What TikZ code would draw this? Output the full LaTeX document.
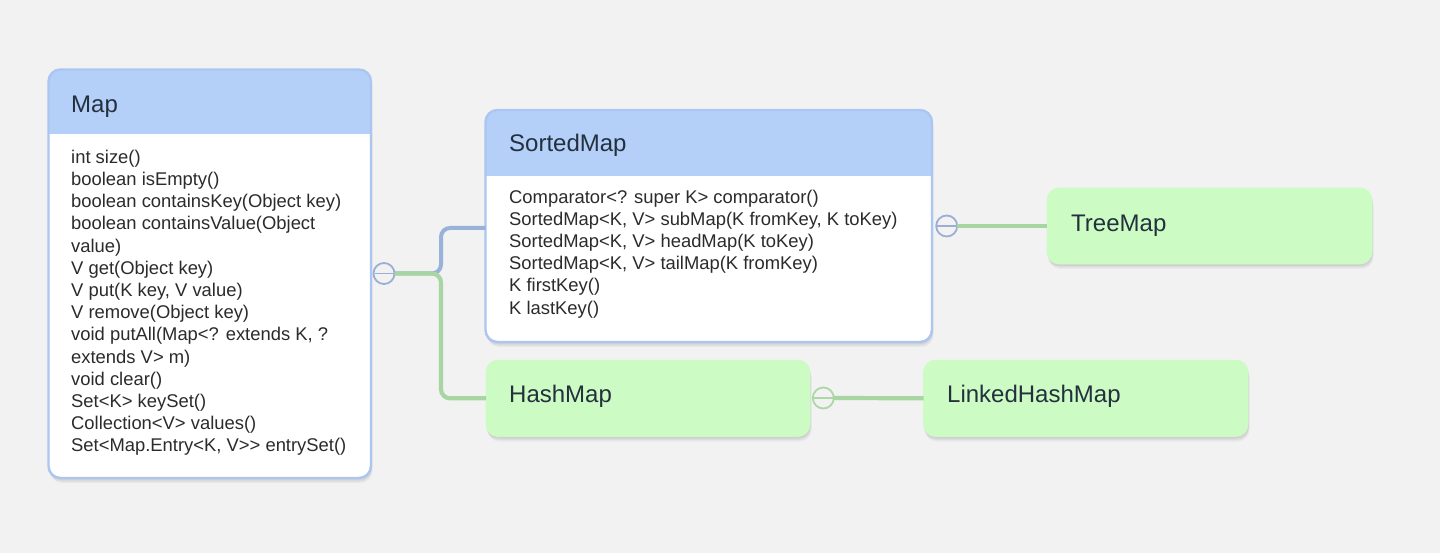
\documentclass[tikz,border=0pt]{standalone}
\usepackage{fontspec}
\setmainfont[Ligatures={NoCommon}]{Liberation Sans}
\usetikzlibrary{shadows}
\definecolor{bgc}{HTML}{F2F2F2}
\definecolor{hdrblue}{HTML}{B4CFF8}
\definecolor{brdblue}{HTML}{ABC6F0}
\definecolor{greenfill}{HTML}{CCFCC4}
\definecolor{greenline}{HTML}{A8D6A2}
\definecolor{blueline}{HTML}{98B2DA}
\definecolor{circblue}{HTML}{9AAED6}
\definecolor{circgreen}{HTML}{ACD8A6}
\definecolor{txt}{HTML}{2B2B2B}
\definecolor{ttl}{HTML}{24303E}
\tikzset{
  softshadow/.style={
    general shadow={fill=black,opacity=0.05,shadow yshift=-2pt,shadow xshift=0.5pt},
    general shadow={fill=black,opacity=0.05,shadow yshift=-3.5pt,shadow xshift=1pt},
    general shadow={fill=black,opacity=0.04,shadow yshift=-5pt,shadow xshift=1.5pt}},
  classbox/.style={rectangle, rounded corners=12pt, fill=white, outer sep=0pt, inner sep=0pt, softshadow},
  classborder/.style={draw=brdblue, line width=2.4pt, rounded corners=12pt},
  leafbox/.style={rectangle, rounded corners=12pt, fill=greenfill, draw=greenfill, line width=0.6pt, outer sep=0pt, inner sep=0pt, softshadow},
  titletext/.style={anchor=base west, inner sep=0pt, text=ttl, font=\fontsize{24}{28}\selectfont},
  bodytext/.style={anchor=north west, inner sep=0pt, align=left, text=txt, font=\fontsize{18.4}{22.2}\selectfont},
  fold/.style={circle, draw=#1, fill=bgc, line width=1.8pt, minimum size=21pt, inner sep=0pt, outer sep=0pt},
  connb/.style={draw=blueline, line width=4pt, rounded corners=9pt},
  conng/.style={draw=greenline, line width=4.2pt, rounded corners=9pt},
}
\begin{document}
\begin{tikzpicture}[x=1pt,y=-1pt]
\fill[bgc] (0,0) rectangle (1440,553);
\useasboundingbox (0,0) rectangle (1440,553);

% Map
\node[classbox, minimum width=322.5pt, minimum height=408.5pt] (map) at (209.75,273.75) {};
\begin{scope}
\clip[rounded corners=12pt] (map.north west) rectangle (map.south east);
\fill[hdrblue] (map.north west) rectangle ([yshift=-64.5pt]map.north east);
\end{scope}
\draw[classborder] (map.north west) rectangle (map.south east);
\node[titletext] (maptitle) at (71,113) {Map};
\node[bodytext] (mapbody) at (71,148) {\rule{0pt}{15pt}int size()\\
boolean isEmpty()\\
boolean containsKey(Object key)\\
boolean containsValue(Object\\
value)\\
V get(Object key)\\
V put(K key, V value)\\
V remove(Object key)\\
void putAll(Map<? extends K, ?\\
extends V> m)\\
void clear()\\
Set<K> keySet()\\
Collection<V> values()\\
Set<Map.Entry<K, V>{}> entrySet()};

% SortedMap
\node[classbox, minimum width=446.5pt, minimum height=232pt] (sorted) at (708.75,226) {};
\begin{scope}
\clip[rounded corners=12pt] (sorted.north west) rectangle (sorted.south east);
\fill[hdrblue] (sorted.north west) rectangle ([yshift=-66pt]sorted.north east);
\end{scope}
\draw[classborder] (sorted.north west) rectangle (sorted.south east);
\node[titletext] (sortedtitle) at (509,152) {SortedMap};
\node[bodytext] (sortedbody) at (509,188) {\rule{0pt}{15pt}Comparator<? super K> comparator()\\
SortedMap<K, V> subMap(K fromKey, K toKey)\\
SortedMap<K, V> headMap(K toKey)\\
SortedMap<K, V> tailMap(K fromKey)\\
K firstKey()\\
K lastKey()};

% leaf boxes
\node[leafbox, minimum width=325pt, minimum height=76pt] (tree) at (1209.5,226) {};
\node[titletext] (treetitle) at (1071,231.7) {TreeMap};
\node[leafbox, minimum width=324pt, minimum height=76.5pt] (hash) at (648,398.3) {};
\node[titletext] (hashtitle) at (509,402.7) {HashMap};
\node[leafbox, minimum width=324.5pt, minimum height=76.5pt] (lhm) at (1085.75,398.3) {};
\node[titletext] (lhmtitle) at (947,402.7) {LinkedHashMap};

% connectors
\coordinate (j1) at (441,273.5);
\coordinate (j2) at (441,228);
\coordinate (j3) at (441,398.3);
\node[fold=circblue] (c1) at (384,273.5) {};
\node[fold=circblue] (c2) at (946.7,226) {};
\node[fold=circgreen] (c3) at (823.3,398) {};
\draw[connb] (c1.east) -- (j1) -- (j2) -- (j2 -| sorted.west);
\draw[conng] (c1.east) -- (j1) -- (j3) -- (hash.west);
\draw[conng, rounded corners=0pt] (c2.east) -- (tree.west);
\draw[conng, rounded corners=0pt] (c3.east) -- (lhm.west);

% minus signs in fold circles
\foreach \nd/\col in {c1/circblue, c2/circblue, c3/circgreen}{
  \draw[draw=\col, line width=1.8pt] ([xshift=1pt]\nd.west) -- ([xshift=-1pt]\nd.east);
}
\end{tikzpicture}
\end{document}
